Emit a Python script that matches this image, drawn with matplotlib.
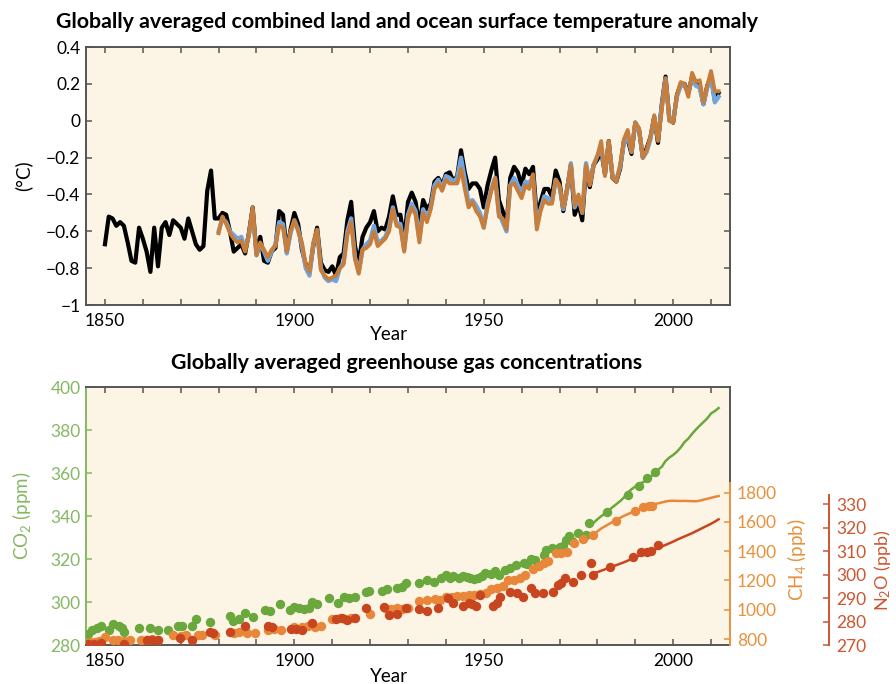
import numpy as np
import matplotlib
matplotlib.use("Agg")
import matplotlib.pyplot as plt
from matplotlib.ticker import MultipleLocator, FixedLocator, FuncFormatter

plt.rcParams['font.family'] = ['Lato', 'DejaVu Sans']
plt.rcParams['mathtext.fontset'] = 'custom'
plt.rcParams['mathtext.rm'] = 'Lato'
plt.rcParams['mathtext.it'] = 'Lato:italic'
plt.rcParams['mathtext.bf'] = 'Lato:bold'
plt.rcParams['axes.unicode_minus'] = True

# --- temperature anomaly (relative to 1986-2005) ---
had_years = list(range(1850, 2013))
had_temp = [-0.67, -0.52, -0.53, -0.57, -0.55, -0.57, -0.66, -0.76, -0.77, -0.58,
            -0.64, -0.71, -0.82, -0.58, -0.79, -0.58, -0.55, -0.62, -0.54, -0.56,
            -0.58, -0.64, -0.53, -0.60, -0.67, -0.70, -0.68, -0.38, -0.27, -0.53,
            -0.53, -0.50, -0.51, -0.60, -0.71, -0.69, -0.67, -0.72, -0.61, -0.47,
            -0.72, -0.63, -0.76, -0.77, -0.71, -0.69, -0.49, -0.51, -0.71, -0.59,
            -0.50, -0.56, -0.70, -0.78, -0.82, -0.68, -0.58, -0.77, -0.81, -0.82,
            -0.79, -0.84, -0.74, -0.72, -0.54, -0.44, -0.68, -0.77, -0.63, -0.58,
            -0.55, -0.49, -0.60, -0.58, -0.59, -0.52, -0.41, -0.51, -0.51, -0.65,
            -0.44, -0.39, -0.44, -0.57, -0.43, -0.48, -0.45, -0.33, -0.31, -0.35,
            -0.29, -0.28, -0.33, -0.30, -0.16, -0.28, -0.37, -0.34, -0.34, -0.37,
            -0.47, -0.35, -0.27, -0.20, -0.43, -0.49, -0.57, -0.31, -0.25, -0.28,
            -0.35, -0.26, -0.29, -0.25, -0.52, -0.44, -0.37, -0.37, -0.41, -0.27,
            -0.33, -0.49, -0.37, -0.24, -0.51, -0.45, -0.54, -0.25, -0.36, -0.24,
            -0.21, -0.16, -0.29, -0.11, -0.31, -0.33, -0.26, -0.11, -0.10, -0.18,
            -0.01, -0.05, -0.20, -0.15, -0.09, 0.02, -0.12, 0.09, 0.24, 0.01,
            -0.01, 0.14, 0.20, 0.20, 0.15, 0.24, 0.21, 0.19, 0.09, 0.19,
            0.24, 0.11, 0.15]

other_years = list(range(1880, 2013))
noaa_temp = [-0.60, -0.53, -0.55, -0.60, -0.62, -0.64, -0.63, -0.70, -0.62, -0.49,
             -0.73, -0.67, -0.71, -0.76, -0.71, -0.67, -0.55, -0.56, -0.72, -0.61,
             -0.54, -0.59, -0.68, -0.80, -0.84, -0.67, -0.60, -0.80, -0.85, -0.87,
             -0.86, -0.87, -0.80, -0.77, -0.60, -0.53, -0.74, -0.82, -0.70, -0.67,
             -0.65, -0.57, -0.66, -0.65, -0.63, -0.58, -0.47, -0.56, -0.56, -0.70,
             -0.51, -0.45, -0.49, -0.64, -0.48, -0.53, -0.47, -0.35, -0.32, -0.37,
             -0.30, -0.31, -0.33, -0.31, -0.20, -0.32, -0.45, -0.43, -0.46, -0.50,
             -0.58, -0.45, -0.37, -0.31, -0.50, -0.55, -0.60, -0.35, -0.31, -0.35,
             -0.39, -0.33, -0.34, -0.30, -0.56, -0.48, -0.41, -0.42, -0.44, -0.32,
             -0.36, -0.48, -0.38, -0.23, -0.47, -0.42, -0.50, -0.23, -0.34, -0.24,
             -0.19, -0.15, -0.28, -0.12, -0.30, -0.32, -0.25, -0.12, -0.08, -0.17,
             -0.01, -0.05, -0.20, -0.17, -0.10, 0.02, -0.10, 0.08, 0.23, 0.00,
             0.00, 0.13, 0.19, 0.19, 0.15, 0.23, 0.19, 0.18, 0.09, 0.18,
             0.24, 0.10, 0.13]
giss_temp = [-0.61, -0.52, -0.56, -0.61, -0.64, -0.66, -0.65, -0.71, -0.62, -0.47,
             -0.73, -0.66, -0.70, -0.74, -0.70, -0.68, -0.57, -0.58, -0.71, -0.60,
             -0.54, -0.60, -0.66, -0.78, -0.82, -0.66, -0.59, -0.81, -0.84, -0.86,
             -0.85, -0.84, -0.80, -0.78, -0.62, -0.55, -0.75, -0.83, -0.70, -0.69,
             -0.67, -0.60, -0.68, -0.66, -0.64, -0.60, -0.48, -0.57, -0.58, -0.71,
             -0.53, -0.47, -0.51, -0.66, -0.50, -0.55, -0.48, -0.37, -0.34, -0.38,
             -0.32, -0.34, -0.34, -0.34, -0.26, -0.37, -0.47, -0.44, -0.49, -0.52,
             -0.58, -0.47, -0.38, -0.31, -0.52, -0.53, -0.59, -0.35, -0.34, -0.38,
             -0.42, -0.35, -0.37, -0.29, -0.59, -0.49, -0.43, -0.45, -0.45, -0.32,
             -0.35, -0.47, -0.37, -0.24, -0.46, -0.40, -0.50, -0.24, -0.35, -0.24,
             -0.19, -0.11, -0.30, -0.11, -0.31, -0.33, -0.24, -0.10, -0.05, -0.17,
             -0.01, -0.04, -0.20, -0.16, -0.09, 0.03, -0.11, 0.06, 0.23, 0.00,
             -0.01, 0.14, 0.21, 0.20, 0.13, 0.26, 0.21, 0.22, 0.10, 0.19,
             0.27, 0.16, 0.16]

# --- greenhouse gases ---
co2_dot_years = [1845.5, 1846.5, 1847.8, 1849, 1851, 1852.2, 1853.6, 1854.4, 1855, 1859,
                 1862, 1864, 1866.7, 1869.2, 1870.3, 1872.9, 1874.1, 1877.8, 1882.9, 1883.9,
                 1885.3, 1887, 1889.1, 1892.3, 1893.7, 1896.1, 1898.8, 1899.8, 1901.2, 1902.5,
                 1903.8, 1904.7, 1906, 1909.1, 1911.4, 1913, 1914.4, 1916.1, 1918.8, 1919.6,
                 1923.2, 1924.5, 1927.1, 1928.5, 1929.4, 1932.9, 1935.1, 1936.9, 1938.6, 1940,
                 1941, 1942, 1943.5, 1944.5, 1945.5, 1946.5, 1947.5, 1948.5, 1949.5, 1950.2,
                 1952, 1953, 1954, 1955.5, 1957, 1958.5, 1960.5, 1961.5, 1962.5, 1963.5,
                 1965.8, 1966.5, 1968, 1969, 1970, 1971, 1971.8, 1972.5, 1973.2, 1975,
                 1977, 1977.7, 1982.5, 1988.2, 1990.9, 1993.1, 1995.2]
co2_dot_ppm = [285, 287, 288, 289, 287, 290, 289, 288, 286, 288,
               288, 287, 287, 289, 289, 289, 292, 290.5, 293.5, 291,
               292, 295, 293, 296.3, 295.8, 299.3, 296.3, 297.8, 297.4, 296.6,
               297.1, 300.2, 299.3, 301.7, 299.7, 302.2, 301.7, 302.5, 304.5, 305.1,
               305.3, 306.1, 306.4, 307.1, 308.7, 308.7, 310.2, 309.5, 311, 312.5,
               311, 312, 311, 312, 311.5, 311, 310.5, 311, 312, 313.5,
               313, 314.5, 312.5, 315, 316, 317, 318, 317.5, 320, 319.5,
               322, 324.2, 325, 324.5, 325.5, 326, 329, 330.5, 328.5, 332.2,
               331, 336.6, 342, 349.6, 354, 357.8, 360.3]
co2_line_years = list(range(1979, 2013))
co2_line_ppm = [336.8, 338.5, 339.9, 341.1, 342.6, 344.1, 345.5, 346.9, 348.6, 350.9,
                352.4, 353.7, 354.9, 355.7, 356.4, 358.0, 359.8, 361.5, 362.9, 365.6,
                367.2, 368.4, 369.9, 371.9, 374.4, 376.0, 378.2, 380.2, 382.0, 383.7,
                385.4, 387.7, 388.8, 390.2]

ch4_dot_years = [1846, 1847.5, 1848.5, 1850, 1852, 1853.5, 1855, 1856.5, 1859.5, 1861,
                 1862.5, 1864, 1868, 1870, 1871.5, 1874.5, 1875.5, 1879, 1884, 1885.5,
                 1887.5, 1889.5, 1893, 1894.5, 1896.5, 1900, 1902, 1903.5, 1905.5, 1907,
                 1910, 1912, 1913.5, 1915, 1920, 1924, 1925.5, 1927, 1928.5, 1930,
                 1933, 1935, 1937, 1938.5, 1940, 1941.5, 1943, 1944.5, 1946, 1947.5,
                 1949, 1950.5, 1952, 1953.5, 1955, 1956.5, 1958, 1959.5, 1961, 1963,
                 1964.5, 1966, 1967, 1969, 1970.5, 1972, 1973.7, 1976.2, 1978.8, 1984.9,
                 1990, 1992, 1993.5, 1994.5]
ch4_dot_ppb = [782, 780, 783, 816, 792, 790, 788, 792, 792, 795,
               798, 795, 827, 820, 828, 826, 830, 828, 842, 845,
               840, 843, 860, 865, 862, 880, 882, 887, 884, 890,
               940, 943, 938, 945, 970, 1010, 1005, 1015, 1008, 1015,
               1060, 1065, 1070, 1068, 1085, 1090, 1095, 1092, 1100, 1098,
               1110, 1115, 1145, 1150, 1160, 1200, 1205, 1215, 1238, 1280,
               1300, 1320, 1330, 1385, 1390, 1395, 1455, 1485, 1512, 1603,
               1672, 1700, 1706, 1712]
ch4_line_years = list(range(1979, 2013))
ch4_line_ppb = [1515, 1535, 1555, 1570, 1585, 1600, 1615, 1628, 1641, 1653,
                1664, 1675, 1686, 1697, 1705, 1712, 1720, 1727, 1733, 1740,
                1744, 1745, 1744, 1743, 1744, 1743, 1742, 1741, 1745, 1752,
                1758, 1765, 1771, 1777]

n2o_dot_years = [1845.6, 1847, 1849, 1855, 1861, 1862.5, 1864, 1869.8, 1873, 1877.8,
                 1878.5, 1883, 1887, 1893, 1894, 1899, 1900.5, 1902, 1904.7, 1911,
                 1912.5, 1914, 1916, 1918.8, 1923.7, 1925, 1927, 1929.4, 1933, 1935,
                 1938, 1940.5, 1942, 1944.4, 1946, 1947, 1948, 1949, 1952.5, 1953.5,
                 1954.3, 1956.9, 1958.7, 1960.4, 1962.6, 1963.5, 1965.7, 1968.3, 1969.6, 1970.5,
                 1971.4, 1973.6, 1975.8, 1978.4, 1978.8, 1983.2, 1989.4, 1991.6, 1993, 1994.2,
                 1996]
n2o_dot_ppb = [270.4, 270.6, 271, 270.4, 272.1, 272.1, 272, 272.8, 272.1, 275.7,
               275, 275.7, 278.1, 278.1, 277.5, 276.7, 277, 276.5, 279.5, 281,
               281.5, 280.5, 281.3, 285.6, 286.3, 282.8, 283.2, 285.6, 285.4, 284.5,
               285.6, 289.9, 288, 286.5, 288, 287.5, 286.5, 291.1, 286.5, 288,
               290.6, 292.7, 292, 290.6, 294.1, 292, 292, 292.7, 295.5, 296.5,
               298.4, 297, 299.8, 304.8, 299.8, 303.3, 307.3, 309.7, 309.5, 310,
               312.6]
n2o_line_years = list(range(1979, 2013))
n2o_line_ppb = [300.5, 301.0, 301.6, 302.2, 302.8, 303.4, 304.0, 304.6, 305.2, 305.9,
                306.6, 307.3, 308.0, 308.6, 309.2, 309.8, 310.5, 311.2, 311.9, 312.6,
                313.3, 314.0, 314.8, 315.5, 316.2, 316.9, 317.6, 318.4, 319.2, 320.0,
                320.8, 321.6, 322.5, 323.5]

bg = '#fcf5e5'
spine_col = '#555555'
green_txt = '#86b863'
green = '#6aa83e'
orange_txt = '#e8913c'
orange = '#e8873a'
red_txt = '#cc5630'
red = '#c8461f'

fig = plt.figure(figsize=(8.96, 6.84), dpi=100)

def minus_fmt(v, pos):
    s = '%g' % round(v, 2)
    return s.replace('-', '\u2212')

# ---------------- top panel ----------------
ax1 = fig.add_axes([0.096, 0.554, 0.7187, 0.3772])
ax1.set_facecolor(bg)
ax1.plot(had_years, had_temp, color='black', lw=3.0, zorder=2)
ax1.plot(other_years, noaa_temp, color='#6fa6e2', lw=3.1, zorder=3)
ax1.plot(other_years, giss_temp, color='#c77d3b', lw=2.8, zorder=4)
ax1.set_xlim(1845, 2015)
ax1.set_ylim(-1, 0.4)
ax1.yaxis.set_major_locator(MultipleLocator(0.2))
ax1.yaxis.set_major_formatter(FuncFormatter(minus_fmt))
ax1.set_ylabel('(°C)', fontsize=13.5)
ax1.yaxis.set_label_coords(-0.084, 0.5)

# ---------------- bottom panel ----------------
ax = fig.add_axes([0.096, 0.057, 0.7187, 0.3772])
ax.set_facecolor(bg)
ax.set_xlim(1845, 2015)
ax.set_ylim(280, 400)
ax.yaxis.set_major_locator(MultipleLocator(20))
ax.plot(co2_line_years, co2_line_ppm, color=green, lw=1.8, zorder=5)
ax.scatter(co2_dot_years, co2_dot_ppm, s=46, color=green, lw=0, zorder=5)
ax.set_ylabel('CO$_2$ (ppm)', fontsize=13.5, color=green_txt)
ax.yaxis.set_label_coords(-0.082, 0.5)

ax_ch4 = ax.twinx()
ax_ch4.set_ylim(759, 2522)
ax_ch4.yaxis.set_major_locator(FixedLocator([800, 1000, 1200, 1400, 1600, 1800]))
ax_ch4.plot(ch4_line_years, ch4_line_ppb, color=orange, lw=1.8)
ax_ch4.scatter(ch4_dot_years, ch4_dot_ppb, s=46, color=orange, lw=0)
ax_ch4.set_ylabel('CH$_4$ (ppb)', fontsize=13.5, color=orange_txt)
ax_ch4.yaxis.set_label_coords(1.085, 0.33)

ax_n2o = ax.twinx()
ax_n2o.set_ylim(270, 379.8)
ax_n2o.yaxis.set_major_locator(FixedLocator([270, 280, 290, 300, 310, 320, 330]))
ax_n2o.plot(n2o_line_years, n2o_line_ppb, color=red, lw=1.8)
ax_n2o.scatter(n2o_dot_years, n2o_dot_ppb, s=46, color=red, lw=0)
ax_n2o.spines['right'].set_position(('axes', 1.1537))
ax_n2o.set_ylabel('N$_2$O (ppb)', fontsize=13, color=red_txt)
ax_n2o.yaxis.set_label_coords(1.221, 0.29)

for a in (ax1, ax):
    a.xaxis.set_major_locator(FixedLocator([1850, 1900, 1950, 2000]))
    a.xaxis.set_minor_locator(MultipleLocator(10))
    a.tick_params(axis='x', which='both', direction='in', top=True, length=4,
                  width=1.1, color=spine_col, labelsize=12.5, pad=6)
    for s in ('top', 'bottom'):
        a.spines[s].set_color(spine_col)
        a.spines[s].set_linewidth(1.4)

ax1.tick_params(axis='y', direction='in', right=True, length=4, width=1.1,
                color=spine_col, labelsize=12.5, pad=4)
for s in ('left', 'right'):
    ax1.spines[s].set_color(spine_col)
    ax1.spines[s].set_linewidth(1.4)

ax.tick_params(axis='y', direction='in', right=False, length=4, width=1.1,
               color=green_txt, labelcolor=green_txt, labelsize=12.5, pad=4)
ax.spines['left'].set_color(green_txt)
ax.spines['left'].set_linewidth(1.4)
ax.spines['right'].set_color(spine_col)
ax.spines['right'].set_linewidth(1.4)
ax.spines['right'].set_bounds(355, 400)

for a, c, lo, hi in ((ax_ch4, orange_txt, 759, 1864), (ax_n2o, red_txt, 270, 334)):
    for s in ('top', 'bottom', 'left'):
        a.spines[s].set_visible(False)
    a.spines['right'].set_color(c)
    a.spines['right'].set_linewidth(1.4)
    a.spines['right'].set_bounds(lo, hi)
    a.tick_params(axis='y', direction='in', length=4, width=1.1, color=c,
                  labelcolor=c, labelsize=12.5, pad=5)

# titles and x labels
fig.text(407 / 896, 1 - 22 / 684,
         'Globally averaged combined land and ocean surface temperature anomaly',
         ha='center', va='center', fontsize=15.4, fontweight='bold')
fig.text(407 / 896, 1 - 363 / 684, 'Globally averaged greenhouse gas concentrations',
         ha='center', va='center', fontsize=15.4, fontweight='bold')
fig.text(389 / 896, 1 - 334 / 684, 'Year', ha='center', va='center', fontsize=13.5)
fig.text(389 / 896, 1 - 676 / 684, 'Year', ha='center', va='center', fontsize=13.5)

plt.savefig('out.png', dpi=100)
